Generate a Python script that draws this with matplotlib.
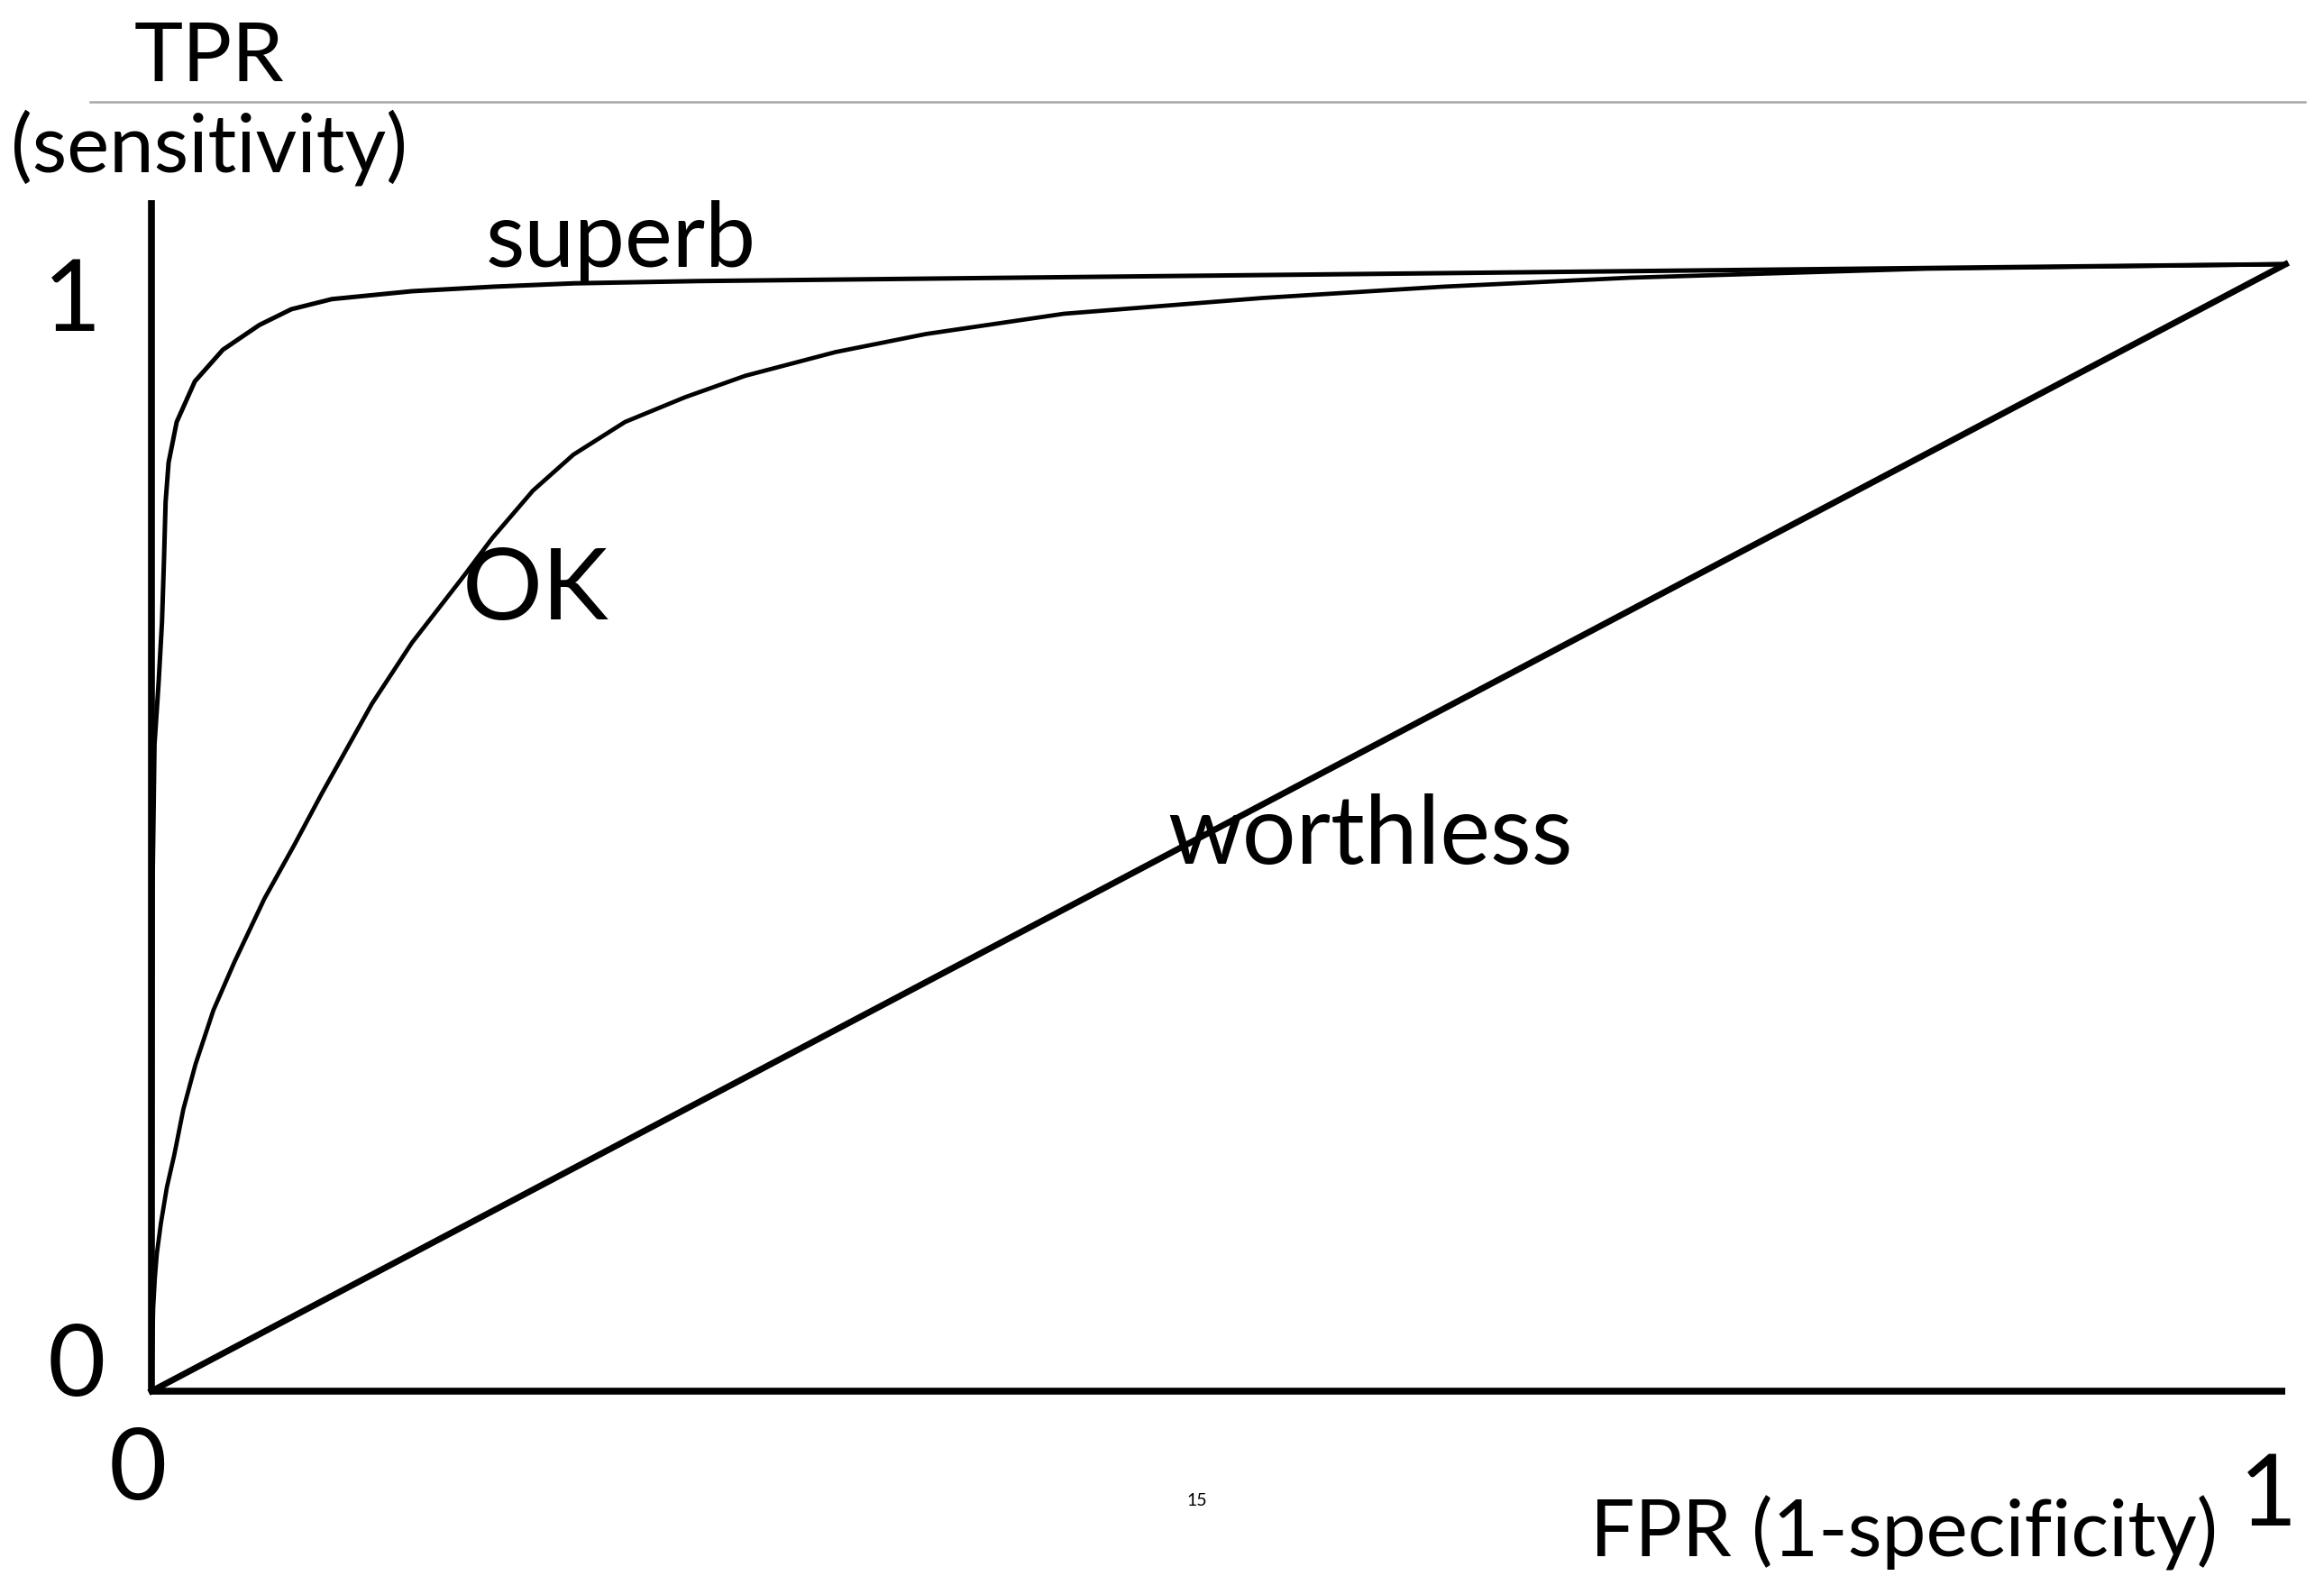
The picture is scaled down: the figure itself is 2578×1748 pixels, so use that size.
import matplotlib
matplotlib.use("Agg")
import matplotlib.pyplot as plt

plt.rcParams["font.family"] = ["Lato", "DejaVu Sans"]

# ROC curves (FPR, TPR)
superb_fpr = [0.0, 0.0005, 0.0014, 0.0033, 0.0049, 0.0058, 0.0066, 0.0080, 0.0118,
              0.0203, 0.0334, 0.0505, 0.0655, 0.0845, 0.122, 0.160, 0.198, 0.256, 1.0]
superb_tpr = [0.0, 0.45, 0.574, 0.628, 0.682, 0.735, 0.789, 0.824, 0.860,
              0.896, 0.924, 0.946, 0.960, 0.969, 0.976, 0.980, 0.983, 0.985, 1.0]

ok_fpr = [0.0, 0.0008, 0.0016, 0.0025, 0.0044, 0.0072, 0.0107, 0.0149, 0.0206,
          0.0290, 0.0389, 0.0529, 0.0670, 0.0797, 0.1033, 0.122, 0.1466, 0.1597,
          0.1787, 0.1977, 0.2219, 0.2501, 0.2783, 0.3205, 0.3628, 0.4275, 0.5205,
          0.605, 0.693, 0.832, 1.0]
ok_tpr = [0.0, 0.074, 0.101, 0.122, 0.149, 0.181, 0.210, 0.250, 0.290,
          0.338, 0.381, 0.437, 0.485, 0.530, 0.610, 0.664, 0.724, 0.757,
          0.799, 0.831, 0.860, 0.882, 0.901, 0.922, 0.938, 0.956, 0.970,
          0.980, 0.988, 0.996, 1.0]

worthless_fpr = [0.0, 1.0]
worthless_tpr = [0.0, 1.0]

curve_labels = ["superb", "OK", "worthless"]
tick_labels = ["0", "1"]

fig = plt.figure(figsize=(25.78, 17.48), dpi=100)
ax = fig.add_axes([0, 0, 1, 1])
ax.set_xlim(-0.071, 1.018)
ax.set_ylim(-0.164, 1.2344)
ax.axis("off")

# hand-drawn axes
ax.plot([0, 0], [0, 1.057], color="black", lw=5.5, solid_capstyle="butt")
ax.plot([0, 1.0], [0, 0], color="black", lw=5.5, solid_capstyle="butt")

# header rule of the slide
ax.plot([-0.0287, 1.0093], [1.144, 1.144], color="#a8a8a8", lw=1.8)

ax.plot(worthless_fpr, worthless_tpr, color="black", lw=5)
ax.plot(superb_fpr, superb_tpr, color="black", lw=3.6, solid_joinstyle="round")
ax.plot(ok_fpr, ok_tpr, color="black", lw=3.4, solid_joinstyle="round")

# curve names
ax.text(0.2197, 0.9976, curve_labels[0], fontsize=72, ha="center", va="baseline")
ax.text(0.1798, 0.6848, curve_labels[1], fontsize=80, ha="center", va="baseline")
ax.text(0.5712, 0.4678, curve_labels[2], fontsize=76, ha="center", va="baseline")

# axis titles
ax.text(0.027, 1.1624, "TPR", fontsize=66, ha="center", va="baseline")
ax.text(0.027, 1.0818, "(sensitivity)", fontsize=64, ha="center", va="baseline")
ax.text(0.8213, -0.1466, "FPR (1-specificity)", fontsize=63, ha="center", va="baseline")

# tick labels
ax.text(-0.0372, 0.941, tick_labels[1], fontsize=80, ha="center", va="baseline")
ax.text(-0.035, -0.004, tick_labels[0], fontsize=80, ha="center", va="baseline")
ax.text(-0.0063, -0.096, tick_labels[0], fontsize=80, ha="center", va="baseline")
ax.text(0.992, -0.119, tick_labels[1], fontsize=80, ha="center", va="baseline")

# slide number
ax.text(0.490, -0.102, "15", fontsize=14, ha="center", va="baseline")

fig.savefig("out.png", dpi=100)
